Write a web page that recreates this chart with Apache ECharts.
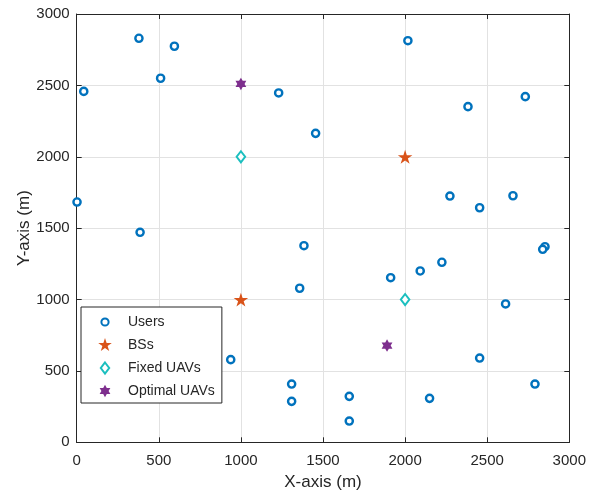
<!DOCTYPE html>
<html>
<head>
<meta charset="utf-8">
<script src="https://cdn.jsdelivr.net/npm/echarts@6/dist/echarts.min.js"></script>
<style>
  html, body { margin: 0; padding: 0; background: #fff; }
  #chart { width: 592px; height: 491px; }
</style>
</head>
<body>
<div id="chart"></div>
<script>
// Ground user positions (m)
const userX = [379, 595, 511, 43, 2, 386, 1230, 2017, 2383, 2732, 1455, 2273, 2454, 2657, 1384,
               2852, 2838, 1358, 938, 1309, 1309, 1912, 2092, 2224, 2612, 2454, 2791, 1660, 1660, 2149];
const userY = [2830, 2774, 2550, 2458, 1683, 1471, 2447, 2813, 2351, 2421, 2164, 1725, 1643, 1727, 1377,
               1370, 1352, 1079, 579, 408, 287, 1153, 1200, 1261, 969, 590, 408, 322, 149, 308];
// Base stations
const bsX = [2000, 1000];
const bsY = [2000, 1000];
// UAVs at fixed positions
const fixedX = [1000, 2000];
const fixedY = [2000, 1000];
// UAVs at optimised positions
const optX = [1000, 1890];
const optY = [2510, 678];

const seriesNames = ['Users', 'BSs', 'Fixed UAVs', 'Optimal UAVs'];
const xTicks = [0, 500, 1000, 1500, 2000, 2500, 3000];
const yTicks = [0, 500, 1000, 1500, 2000, 2500, 3000];

const pairs = (xs, ys) => xs.map((x, i) => [x, ys[i]]);

// Star outline with n points, as an SVG path body
function starBody(n, rOut, rIn) {
  const pts = [];
  for (let k = 0; k < 2 * n; k++) {
    const r = k % 2 === 0 ? rOut : rIn;
    const a = -Math.PI / 2 + k * Math.PI / n;
    pts.push((r * Math.cos(a)).toFixed(3) + ',' + (r * Math.sin(a)).toFixed(3));
  }
  return 'M' + pts.join(' L') + ' Z';
}
const pentagram = 'path://' + starBody(5, 10, 3.82);
const hexagram = 'path://' + starBody(6, 10, 5.77);

// Legend icons: a 14x14 frame (two bare move-to points) so shapes keep their pixel size
const FRAME = 'M-7,-7 M7,7 ';
const legendIcons = [
  'path://' + FRAME + 'M3.6,0 A3.6,3.6 0 1,1 -3.6,0 A3.6,3.6 0 1,1 3.6,0 Z',
  'path://' + FRAME + starBody(5, 7.3, 2.8),
  'path://' + FRAME + 'M0,-5.5 L4.2,0 L0,5.5 L-4.2,0 Z',
  'path://' + FRAME + starBody(6, 6.2, 3.58)
];

const FONT = "'Liberation Sans', Arial, Helvetica, sans-serif";
const INK = '#262626';

const chart = echarts.init(document.getElementById('chart'), null, { renderer: 'canvas' });

const boxAxisX = {
  type: 'value', min: 0, max: 3000, interval: 500, position: 'top',
  axisLine: { show: true, onZero: false, lineStyle: { color: INK, width: 1 } },
  axisTick: { show: true, inside: true, length: 5, lineStyle: { color: INK } },
  axisLabel: { show: false }, splitLine: { show: false }
};
const boxAxisY = {
  type: 'value', min: 0, max: 3000, interval: 500, position: 'right',
  axisLine: { show: true, onZero: false, lineStyle: { color: INK, width: 1 } },
  axisTick: { show: true, inside: true, length: 5, lineStyle: { color: INK } },
  axisLabel: { show: false }, splitLine: { show: false }
};

chart.setOption({
  animation: false,
  backgroundColor: '#fff',
  textStyle: { fontFamily: FONT },
  grid: { left: 76.7, right: 22.7, top: 14, bottom: 48.7, containLabel: false, outerBoundsMode: 'none' },
  xAxis: [{
    type: 'value', min: 0, max: 3000, interval: 500, position: 'bottom',
    name: 'X-axis (m)', nameLocation: 'middle', nameGap: 32, nameMoveOverlap: false,
    nameTextStyle: { color: INK, fontSize: 17, fontFamily: FONT },
    axisLine: { show: true, onZero: false, lineStyle: { color: INK, width: 1 } },
    axisTick: { show: true, inside: true, length: 5, lineStyle: { color: INK } },
    axisLabel: { color: INK, fontSize: 15, margin: 11, fontFamily: FONT,
                 formatter: v => xTicks.includes(v) ? String(v) : '' },
    splitLine: { show: true, lineStyle: { color: '#e2e2e2', width: 1 } }
  }, boxAxisX],
  yAxis: [{
    type: 'value', min: 0, max: 3000, interval: 500, position: 'left',
    name: 'Y-axis (m)', nameLocation: 'middle', nameGap: 44, nameMoveOverlap: false,
    nameTextStyle: { color: INK, fontSize: 17, fontFamily: FONT },
    axisLine: { show: true, onZero: false, lineStyle: { color: INK, width: 1 } },
    axisTick: { show: true, inside: true, length: 5, lineStyle: { color: INK } },
    axisLabel: { color: INK, fontSize: 15, margin: 7, fontFamily: FONT,
                 formatter: v => yTicks.includes(v) ? String(v) : '' },
    splitLine: { show: true, lineStyle: { color: '#e2e2e2', width: 1 } }
  }, boxAxisY],
  legend: {
    orient: 'vertical', left: 81, top: 307,
    backgroundColor: '#fff', borderColor: INK, borderWidth: 1, borderRadius: 0,
    padding: [7, 7, 5, 16], itemGap: 8, itemWidth: 36, itemHeight: 14,
    symbolKeepAspect: true,
    textStyle: { color: INK, fontSize: 14, fontFamily: FONT },
    data: seriesNames.map((name, i) => ({ name, icon: legendIcons[i] }))
  },
  series: [
    {
      name: seriesNames[0], type: 'scatter', data: pairs(userX, userY),
      symbol: 'circle', symbolSize: 7.2,
      itemStyle: { color: '#fff', borderColor: '#0072BD', borderWidth: 2.4, opacity: 1 }
    },
    {
      name: seriesNames[1], type: 'scatter', data: pairs(bsX, bsY),
      symbol: pentagram, symbolSize: 14.5, symbolKeepAspect: true,
      itemStyle: { color: '#D95319', opacity: 1 }
    },
    {
      name: seriesNames[2], type: 'scatter', data: pairs(fixedX, fixedY),
      symbol: 'diamond', symbolSize: [8.5, 11],
      itemStyle: { color: '#fff', borderColor: '#1BBFBF', borderWidth: 2, opacity: 1 }
    },
    {
      name: seriesNames[3], type: 'scatter', data: pairs(optX, optY),
      symbol: hexagram, symbolSize: 12.5, symbolKeepAspect: true,
      itemStyle: { color: '#7E2F8E', opacity: 1 }
    }
  ]
});
</script>
</body>
</html>
